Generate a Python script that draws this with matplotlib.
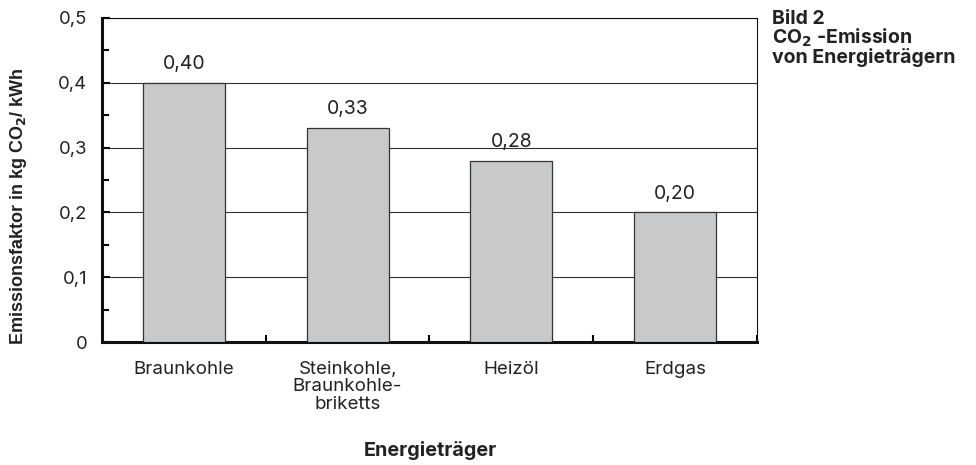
import numpy as np
import matplotlib
matplotlib.use('Agg')
import matplotlib.pyplot as plt
from matplotlib.ticker import MultipleLocator

plt.rcParams['font.family'] = ['Inter', 'DejaVu Sans']

kategorien = ['Braunkohle', 'Steinkohle,\nBraunkohle-\nbriketts', 'Heizöl', 'Erdgas']
werte = [0.40, 0.33, 0.28, 0.20]
labels = ['0,40', '0,33', '0,28', '0,20']
y_ticks = [0, 0.1, 0.2, 0.3, 0.4, 0.5]
y_ticklabels = ['0', '0,1', '0,2', '0,3', '0,4', '0,5']
titel = 'Bild 2\nCO$_\\mathbf{2}$ -Emission\nvon Energieträgern'

fig = plt.figure(figsize=(9.76, 4.65), dpi=100)
ax = fig.add_axes([0.1045, 0.2645, 0.671, 0.697])

x = np.arange(len(werte))
ax.bar(x, werte, width=0.5, color='#c8c9cb', edgecolor='#333333', linewidth=0.9, zorder=3)
for xi, v, l in zip(x, werte, labels):
    ax.text(xi, v + 0.021, l, ha='center', va='baseline', fontsize=14, color='#222222')

ax.set_xlim(-0.5, 3.5)
ax.set_ylim(0, 0.5)
ax.set_yticks(y_ticks)
ax.set_yticklabels(y_ticklabels, fontsize=13.3, color='#222222')
ax.yaxis.set_minor_locator(MultipleLocator(0.05))
ax.tick_params(axis='y', which='major', direction='in', length=6, width=1.5, pad=10.5)
ax.tick_params(axis='y', which='minor', direction='in', length=5, width=1.5)

# kategorie-labels unter den balken, ticks an den grenzen
ax.set_xticks([0.5, 1.5, 2.5, 3.5])
ax.set_xticklabels([])
ax.tick_params(axis='x', which='major', direction='in', length=5, width=1.5)
for xi, k in zip(x, kategorien):
    ax.text(xi, -0.029, k, ha='center', va='top', fontsize=13.5, color='#222222',
            linespacing=1.03)

ax.grid(axis='y', color='#333333', linewidth=0.8, zorder=0)
ax.set_axisbelow(True)

ax.spines['left'].set_linewidth(2.2)
ax.spines['bottom'].set_linewidth(2.2)
ax.spines['top'].set_linewidth(0.8)
ax.spines['right'].set_linewidth(0.8)
for s in ax.spines.values():
    s.set_color('#111111')

fig.text(0.019, 0.557, 'Emissionsfaktor in kg CO$_\\mathbf{2}$/ kWh', rotation=90, ha='center',
         va='center', fontsize=13, fontweight='bold', color='#222222',
         family=['Liberation Sans', 'DejaVu Sans'])
fig.text(0.441, 0.032, 'Energieträger', ha='center', va='center', fontsize=14.3,
         fontweight='bold', color='#222222')
fig.text(0.791, 1 - 10 / 465, titel, ha='left', va='top', fontsize=14,
         fontweight='bold', color='#222222', linespacing=0.92)

fig.savefig('out.png', dpi=100)
